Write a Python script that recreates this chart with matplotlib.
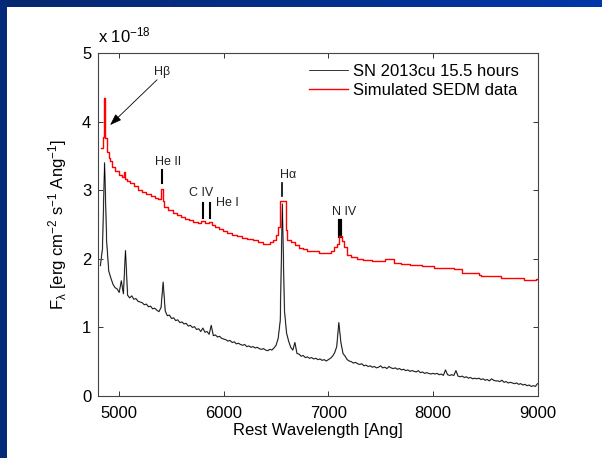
import numpy as np
import matplotlib
matplotlib.use("Agg")
import matplotlib.pyplot as plt
from matplotlib.colors import LinearSegmentedColormap
from matplotlib.patches import Rectangle

plt.rcParams['font.family'] = ['Liberation Sans', 'DejaVu Sans']
plt.rcParams['mathtext.fontset'] = 'custom'
plt.rcParams['mathtext.rm'] = 'Liberation Sans'
plt.rcParams['mathtext.it'] = 'Liberation Sans'
plt.rcParams['mathtext.default'] = 'regular'

# ---------- data (flux in units of 1e-18 erg/cm2/s/Ang) ----------
# observed spectrum, sampled every 20 Ang from 4820 Ang
obs_start = 4820
obs_step = 20
obs_flux = [
    1.90, 2.15, 3.40, 2.25, 1.82, 1.72, 1.63, 1.58, 1.56, 1.51,   # 4820-5000
    1.68, 1.49, 2.12, 1.47, 1.43, 1.46, 1.41, 1.42, 1.38, 1.37,   # 5020-5200
    1.36, 1.33, 1.34, 1.30, 1.31, 1.27, 1.28, 1.25, 1.23, 1.29,   # 5220-5400
    1.66, 1.24, 1.17, 1.18, 1.13, 1.14, 1.10, 1.11, 1.07, 1.08,   # 5420-5600
    1.05, 1.06, 1.02, 1.03, 1.00, 1.01, 0.97, 0.98, 0.94, 0.99,   # 5620-5800
    0.93, 0.94, 0.90, 1.03, 0.88, 0.89, 0.86, 0.87, 0.84, 0.83,   # 5820-6000
    0.82, 0.80, 0.81, 0.78, 0.79, 0.76, 0.77, 0.75, 0.74, 0.75,   # 6020-6200
    0.72, 0.73, 0.71, 0.72, 0.70, 0.71, 0.69, 0.68, 0.69, 0.67,   # 6220-6400
    0.66, 0.68, 0.67, 0.70, 0.74, 0.84, 1.10, 2.80, 1.25, 0.92,   # 6420-6600
    0.80, 0.71, 0.67, 0.78, 0.62, 0.61, 0.58, 0.59, 0.56, 0.57,   # 6620-6800
    0.55, 0.56, 0.54, 0.55, 0.53, 0.54, 0.52, 0.53, 0.51, 0.53,   # 6820-7000
    0.55, 0.58, 0.63, 0.72, 1.07, 0.78, 0.62, 0.58, 0.53, 0.51,   # 7020-7200
    0.50, 0.48, 0.49, 0.47, 0.46, 0.47, 0.44, 0.45, 0.43, 0.44,   # 7220-7400
    0.42, 0.43, 0.41, 0.42, 0.44, 0.41, 0.42, 0.40, 0.43, 0.41,   # 7420-7600
    0.40, 0.41, 0.39, 0.40, 0.38, 0.39, 0.37, 0.38, 0.36, 0.37,   # 7620-7800
    0.36, 0.35, 0.37, 0.34, 0.35, 0.33, 0.34, 0.33, 0.32, 0.33,   # 7820-8000
    0.32, 0.33, 0.31, 0.32, 0.30, 0.38, 0.31, 0.30, 0.31, 0.30,   # 8020-8200
    0.37, 0.29, 0.28, 0.29, 0.27, 0.28, 0.26, 0.27, 0.25, 0.26,   # 8220-8400
    0.25, 0.26, 0.24, 0.25, 0.23, 0.24, 0.22, 0.25, 0.23, 0.22,   # 8420-8600
    0.22, 0.21, 0.23, 0.20, 0.21, 0.19, 0.20, 0.19, 0.18, 0.19,   # 8620-8800
    0.17, 0.18, 0.16, 0.17, 0.15, 0.16, 0.14, 0.15, 0.14, 0.18,   # 8820-9000
]
obs_wl = obs_start + obs_step * np.arange(len(obs_flux))

# simulated SEDM spectrum (bin left edges + flux, step plot)
sedm_wl = [
    4830, 4848, 4856, 4866, 4886, 4898, 4912, 4928, 4955, 4995,
    5030, 5042, 5052, 5070, 5100, 5140, 5180, 5220, 5260, 5300,
    5340, 5375, 5404, 5416, 5432, 5462, 5510, 5550, 5590, 5630,
    5670, 5710, 5750, 5785, 5820, 5855, 5885, 5915, 5955, 5995,
    6035, 6075, 6125, 6175, 6225, 6275, 6325, 6375, 6415, 6445,
    6475, 6500, 6520, 6535, 6592, 6608, 6640, 6680, 6715, 6755,
    6800, 6855, 6915, 6975, 7025, 7055, 7080, 7100, 7128, 7150,
    7175, 7215, 7275, 7335, 7415, 7540, 7625, 7690, 7780, 7900,
    8010, 8120, 8180, 8200, 8280, 8420, 8440, 8460, 8650, 8870,
    8990, 9000,
]
sedm_flux = [
    3.61, 3.78, 4.34, 3.76, 3.56, 3.47, 3.42, 3.34, 3.28, 3.22,
    3.19, 3.26, 3.17, 3.14, 3.10, 3.06, 3.01, 2.97, 2.94, 2.91,
    2.89, 2.87, 3.02, 2.84, 2.76, 2.71, 2.67, 2.64, 2.61, 2.58,
    2.56, 2.54, 2.52, 2.55, 2.52, 2.54, 2.49, 2.46, 2.43, 2.40,
    2.37, 2.35, 2.33, 2.31, 2.29, 2.27, 2.25, 2.22, 2.21, 2.24,
    2.28, 2.34, 2.46, 2.84, 2.42, 2.28, 2.24, 2.20, 2.16, 2.14,
    2.12, 2.11, 2.09, 2.08, 2.11, 2.17, 2.21, 2.33, 2.26, 2.17,
    2.05, 2.02, 2.00, 1.98, 1.97, 2.00, 1.94, 1.93, 1.91, 1.89,
    1.87, 1.86, 1.87, 1.85, 1.79, 1.80, 1.77, 1.75, 1.72, 1.69,
    1.70, 1.70,
]

x_ticks = [5000, 6000, 7000, 8000, 9000]
y_ticks = [0, 1, 2, 3, 4, 5]

# ---------- figure ----------
W, H = 602, 458
fig = plt.figure(figsize=(W / 100, H / 100), dpi=100)
fig.patch.set_facecolor("white")

# slide frame: gradient band on top, navy strip on the left
ax_top = fig.add_axes([0, 1 - 7 / H, 1, 7 / H])
ax_top.imshow(np.linspace(0, 1, 256)[None, :], aspect="auto",
              cmap=LinearSegmentedColormap.from_list("band", ["#07286e", "#0037a8"]))
ax_top.set_axis_off()
fig.add_artist(Rectangle((0, 0), 7 / W, 1, transform=fig.transFigure,
                         facecolor="#022a78", edgecolor="none"))

ax = fig.add_axes([98.3 / W, 1 - 396 / H, 439.2 / W, 343 / H])

ax.plot(obs_wl, obs_flux, color="#b4b4b4", lw=1.1, zorder=2)
ax.plot(obs_wl, obs_flux, color="black", lw=0.55, zorder=3,
        label="SN 2013cu 15.5 hours")
ax.plot(sedm_wl, sedm_flux, color="red", lw=1.0, drawstyle="steps-post", zorder=4,
        label="Simulated SEDM data")

ax.set_xlim(4800, 9000)
ax.set_ylim(0, 5)
ax.set_xticks(x_ticks)
ax.set_yticks(y_ticks)
ax.tick_params(direction="in", length=3.6, width=0.7, top=True, right=True,
               labelsize=12, color="#333333")
ax.tick_params(axis="x", pad=7)
ax.tick_params(axis="y", pad=5)
for s in ax.spines.values():
    s.set_color("#444444")
    s.set_linewidth(0.8)

ax.set_xlabel("Rest Wavelength [Ang]", fontsize=12, labelpad=2)
ax.set_ylabel(r"F$_\lambda$ [erg cm$^{-2}$ s$^{-1}$ Ang$^{-1}$]", fontsize=12, labelpad=9)
ax.text(0.0, 1.032, r"x 10$^{-18}$", transform=ax.transAxes, fontsize=12,
        ha="left", va="baseline")

# line identifications
lab = dict(fontsize=9, color="#222222", ha="center", va="center")
ax.annotate("", xy=(4913, 3.95), xytext=(5362, 4.61),
            arrowprops=dict(arrowstyle="-|>,head_length=0.7,head_width=0.25",
                            color="black", lw=0.6, shrinkA=0, shrinkB=0))
ax.text(5410, 4.72, "Hβ", **lab)
ax.text(5470, 3.41, "He II", **lab)
ax.plot([5412, 5412], [3.10, 3.29], color="black", lw=1.5)
ax.text(5785, 2.96, "C IV", **lab)
ax.plot([5799, 5799], [2.59, 2.81], color="black", lw=1.5)
ax.plot([5869, 5869], [2.59, 2.81], color="black", lw=1.5)
ax.text(6030, 2.81, "He I", **lab)
ax.text(6620, 3.22, "Hα", **lab)
ax.plot([6560, 6560], [2.91, 3.11], color="black", lw=1.2)
ax.text(7151, 2.68, "N IV", **lab)
ax.plot([7115, 7115], [2.33, 2.55], color="black", lw=3.0)

ax.legend(loc="upper left", bbox_to_anchor=(0.48, 0.968), frameon=False,
          fontsize=12, handlelength=2.35, handletextpad=0.3, labelspacing=0.25,
          borderpad=0, borderaxespad=0)

fig.savefig("out.png", dpi=100, facecolor="white")
